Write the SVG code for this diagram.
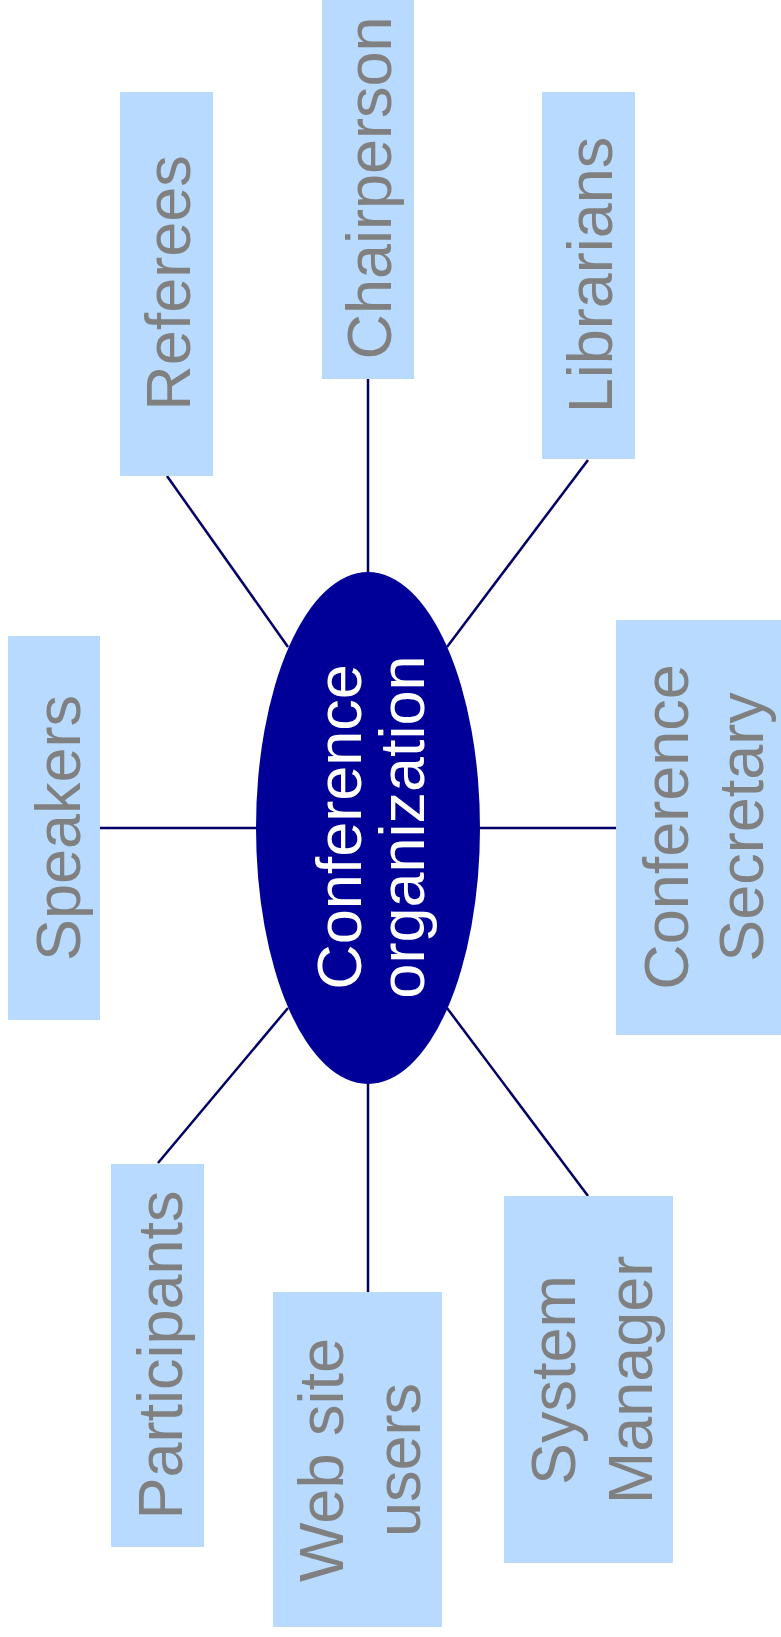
<svg xmlns="http://www.w3.org/2000/svg" width="781" height="1637" viewBox="0 0 781 1637">
<style>
.box{fill:#B7DAFE;}
.lbl{font-family:"Liberation Sans",Arial,sans-serif;font-size:63px;fill:#808080;text-anchor:middle;}
.ctr{font-family:"Liberation Sans",Arial,sans-serif;font-size:63px;fill:#FFFFFF;text-anchor:middle;}
.conn line{stroke:#000066;stroke-width:2.5;}
</style>
<rect width="781" height="1637" fill="#FFFFFF"/>
<g id="connectors" class="conn">
<line x1="368" y1="379" x2="368" y2="572"/>
<line x1="167" y1="476" x2="288" y2="647"/>
<line x1="588" y1="460" x2="447" y2="647"/>
<line x1="100" y1="828" x2="256" y2="828"/>
<line x1="480" y1="828" x2="616" y2="828"/>
<line x1="158" y1="1163" x2="288" y2="1008"/>
<line x1="368" y1="1084" x2="368" y2="1292"/>
<line x1="588" y1="1196" x2="447" y2="1008"/>
</g>
<g id="center">
<ellipse cx="368" cy="828" rx="112" ry="256" fill="#000099"/>
<text class="ctr" transform="translate(361,827) rotate(-90)">Conference</text>
<text class="ctr" transform="translate(424,827) rotate(-90)">organization</text>
</g>
<g id="chairperson">
<rect class="box" x="322" y="0" width="92" height="379"/>
<text class="lbl" transform="translate(391,188) rotate(-90)">Chairperson</text>
</g>
<g id="referees">
<rect class="box" x="120" y="92" width="93" height="384"/>
<text class="lbl" transform="translate(190,283) rotate(-90)">Referees</text>
</g>
<g id="librarians">
<rect class="box" x="542" y="92" width="93" height="367"/>
<text class="lbl" transform="translate(612,275) rotate(-90)">Librarians</text>
</g>
<g id="speakers">
<rect class="box" x="8" y="636" width="92" height="384"/>
<text class="lbl" transform="translate(80,828) rotate(-90)">Speakers</text>
</g>
<g id="secretary">
<rect class="box" x="616" y="620" width="165" height="415"/>
<text class="lbl" transform="translate(688,827) rotate(-90)">Conference</text>
<text class="lbl" transform="translate(763,827) rotate(-90)">Secretary</text>
</g>
<g id="participants">
<rect class="box" x="111" y="1164" width="93" height="383"/>
<text class="lbl" transform="translate(182,1355) rotate(-90)">Participants</text>
</g>
<g id="websiteusers">
<rect class="box" x="273" y="1292" width="169" height="335"/>
<text class="lbl" transform="translate(343,1460) rotate(-90)">Web site</text>
<text class="lbl" transform="translate(420,1460) rotate(-90)">users</text>
</g>
<g id="systemmanager">
<rect class="box" x="504" y="1196" width="169" height="367"/>
<text class="lbl" transform="translate(575,1380) rotate(-90)">System</text>
<text class="lbl" transform="translate(652,1380) rotate(-90)">Manager</text>
</g>
</svg>
